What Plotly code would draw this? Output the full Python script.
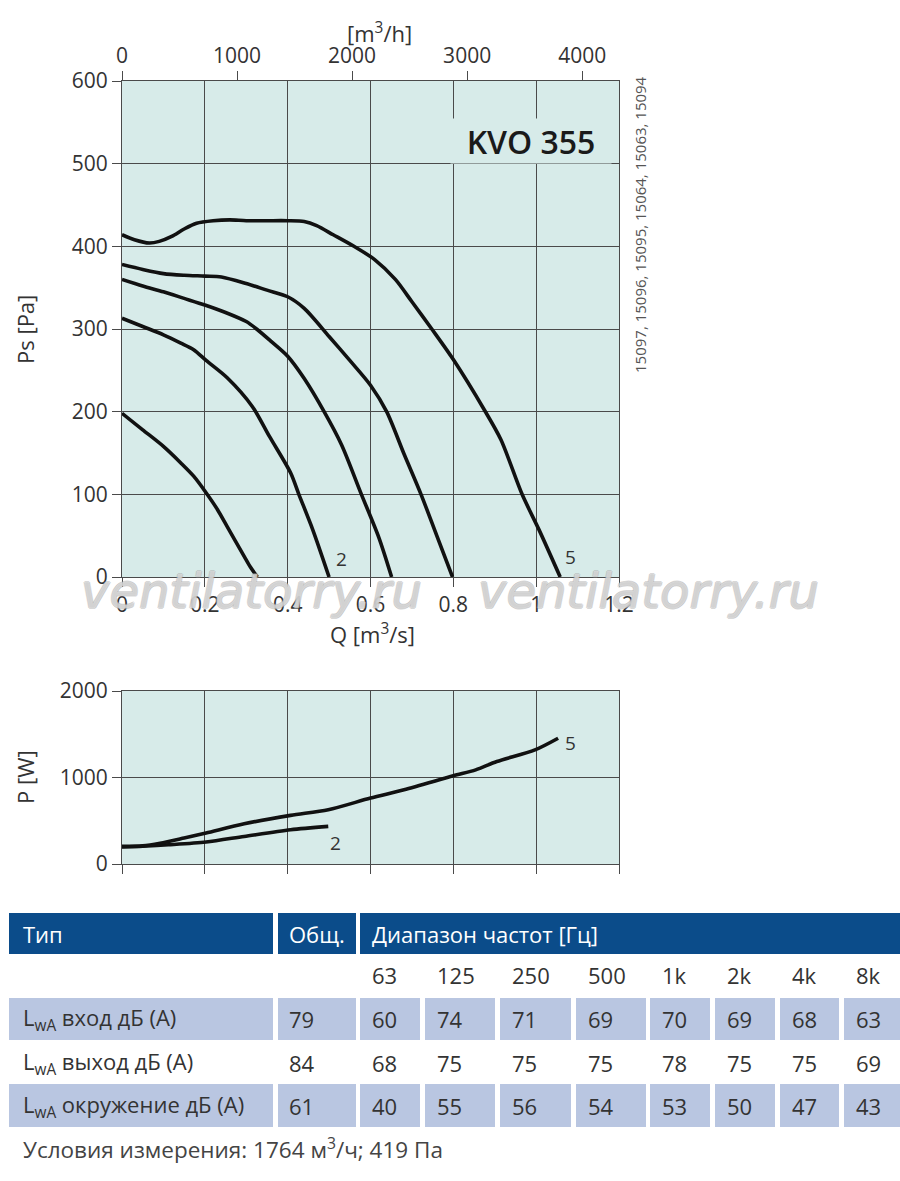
import plotly.graph_objects as go

W, H = 900, 1181

# --- static pressure curves, Q [m3/s] vs Ps [Pa] ---
q1 = [0, 0.05, 0.1, 0.142, 0.173, 0.203, 0.23, 0.254, 0.295, 0.31, 0.327]
ps1 = [198, 178, 158, 138, 122, 102, 82, 61, 25, 12, 0]

q2 = [0, 0.05, 0.1, 0.142, 0.173, 0.203, 0.254, 0.315, 0.356, 0.407, 0.427, 0.46, 0.5]
ps2 = [313, 303, 293, 283, 275, 262, 241, 206, 170, 126, 100, 58, 0]

q3 = [0, 0.05, 0.1, 0.15, 0.2, 0.25, 0.3, 0.325, 0.36, 0.4, 0.44, 0.488, 0.53, 0.578, 0.62, 0.651]
ps3 = [360, 352, 345, 337, 329, 320, 309, 300, 285, 267, 240, 200, 160, 100, 48, 0]

q4 = [0, 0.05, 0.1, 0.15, 0.2, 0.24, 0.3, 0.35, 0.4, 0.44, 0.5, 0.55, 0.6, 0.639, 0.68, 0.722, 0.76, 0.798]
ps4 = [378, 372, 367, 365, 364, 363, 355, 347, 339, 325, 291, 262, 232, 200, 150, 100, 50, 0]

q5 = [0, 0.03, 0.066, 0.09, 0.12, 0.15, 0.18, 0.22, 0.26, 0.3, 0.35, 0.4, 0.44, 0.47, 0.51,
      0.56, 0.61, 0.66, 0.7, 0.748, 0.8, 0.875, 0.915, 0.966, 1.007, 1.058]
ps5 = [414, 408, 404, 406, 412, 421, 428, 431, 432, 431, 431, 431, 430, 425, 414,
       400, 384, 360, 333, 300, 263, 202, 166, 100, 57, 0]

# --- power curves, Q [m3/s] vs P [W] ---
qp2 = [0, 0.05, 0.112, 0.203, 0.295, 0.407, 0.498]
pw2 = [196, 205, 222, 254, 319, 396, 435]

qp5 = [0, 0.05, 0.092, 0.15, 0.203, 0.295, 0.407, 0.498, 0.6, 0.681, 0.8, 0.854, 0.905, 0.997, 1.053]
pw5 = [204, 210, 240, 300, 358, 465, 562, 627, 762, 858, 1019, 1088, 1185, 1319, 1454]

q_ticks = [0, 0.2, 0.4, 0.6, 0.8, 1.0, 1.2]
q_ticktext = ["0", "0.2", "0.4", "0.6", "0.8", "1", "1.2"]
qh_ticks = [0, 1000, 2000, 3000, 4000]

# --- sound table ---
freqs = ["63", "125", "250", "500", "1k", "2k", "4k", "8k"]
row_names = ["L<sub>wA</sub> вход дБ (A)", "L<sub>wA</sub> выход дБ (A)", "L<sub>wA</sub> окружение дБ (A)"]
row_total = [79, 84, 61]
row_values = [
    [60, 74, 71, 69, 70, 69, 68, 63],
    [68, 75, 75, 75, 78, 75, 75, 69],
    [40, 55, 56, 54, 53, 50, 47, 43],
]
footer = "Условия измерения: 1764 м<sup>3</sup>/ч; 419 Па"

BG = "#d7ebe9"
LINE = "#4a4a4a"
TXT = "#333333"
FONT = "Open Sans, sans-serif"
BLUE = "#0b4c8a"
BAND = "#b9c6e1"


def px(x):
    return x / W


def py(y):
    return 1 - y / H


fig = go.Figure()

for q, p in [(q1, ps1), (q2, ps2), (q3, ps3), (q4, ps4), (q5, ps5)]:
    fig.add_trace(go.Scatter(x=q, y=p, mode="lines", xaxis="x", yaxis="y",
                             line=dict(color="#111111", width=3.6, shape="spline", smoothing=0.8),
                             hoverinfo="skip"))
# invisible trace for the m3/h axis
fig.add_trace(go.Scatter(x=[0, 4320], y=[0, 0], mode="lines", xaxis="x3", yaxis="y",
                         line=dict(width=0), hoverinfo="skip"))
for q, p in [(qp2, pw2), (qp5, pw5)]:
    fig.add_trace(go.Scatter(x=q, y=p, mode="lines", xaxis="x2", yaxis="y2",
                             line=dict(color="#111111", width=3.6, shape="spline", smoothing=0.8),
                             hoverinfo="skip"))

xdom = [px(122), px(619)]
axis_common = dict(
    showline=True, linecolor=LINE, linewidth=1.2, mirror=True,
    showgrid=True, gridcolor=LINE, gridwidth=1.1,
    ticks="outside", ticklen=9, tickcolor=LINE, tickwidth=1.2,
    tickfont=dict(family=FONT, size=21, color=TXT),
    zeroline=False, automargin=False,
)

fig.update_layout(
    width=W, height=H,
    margin=dict(l=0, r=0, t=0, b=0),
    paper_bgcolor="white",
    plot_bgcolor=BG,
    showlegend=False,
    xaxis=dict(domain=xdom, range=[0, 1.2], anchor="y", tickvals=q_ticks,
               ticktext=q_ticktext, **axis_common),
    yaxis=dict(domain=[py(577), py(81)], range=[0, 600], anchor="x",
               tickvals=[0, 100, 200, 300, 400, 500, 600], **axis_common),
    xaxis3=dict(overlaying="x", side="top", anchor="y", range=[0, 4320],
                tickvals=qh_ticks, showgrid=False, showline=False, zeroline=False,
                ticks="outside", ticklen=9, tickcolor=LINE, tickwidth=1.2, automargin=False,
                tickfont=dict(family=FONT, size=21, color=TXT)),
    xaxis2=dict(domain=xdom, range=[0, 1.2], anchor="y2", tickvals=q_ticks,
                showticklabels=False, **axis_common),
    yaxis2=dict(domain=[py(864), py(691)], range=[0, 2000], anchor="x2",
                tickvals=[0, 1000, 2000], **axis_common),
)

ann = []


def text(x, y, s, size=21, color=TXT, xanchor="center", **kw):
    ann.append(dict(x=px(x), y=py(y), xref="paper", yref="paper", text=s, showarrow=False,
                    xanchor=xanchor, yanchor="middle",
                    font=dict(family=FONT, size=size, color=color), **kw))


# axis titles
text(379, 33, "[m<sup>3</sup>/h]", size=22)
text(372, 634, "Q [m<sup>3</sup>/s]", size=22)
text(25, 330, "Ps [Pa]", size=22, textangle=-90)
text(25, 777, "P [W]", size=22, textangle=-90)
text(640, 225, "15097, 15096, 15095, 15064, 15063, 15094", size=15, color="#555555", textangle=-90)

# model label, on a box that hides the grid behind it
ann.append(dict(x=px(531), y=py(118), xref="paper", yref="paper", text="KVO 355",
                showarrow=False, bgcolor=BG, width=158, height=42, xanchor="center",
                font=dict(family=FONT, size=32, color="#1a1a1a", weight=600)))

# curve numbers
for xa, ya, q, p, s in [("x", "y", 0.53, 22, "2"), ("x", "y", 1.083, 24, "5"),
                        ("x2", "y2", 0.515, 240, "2"), ("x2", "y2", 1.082, 1400, "5")]:
    ann.append(dict(x=q, y=p, xref=xa, yref=ya, text=s, showarrow=False,
                    font=dict(family=FONT, size=19, color=TXT)))

# watermark: see-through letters with a thin grey outline
for xc in [251, 648]:
    ann.append(dict(x=px(xc), y=py(591), xref="paper", yref="paper", text="ventilatorry.ru",
                    showarrow=False, xanchor="center", yanchor="middle",
                    font=dict(family="DejaVu Sans, sans-serif", size=48, style="italic",
                              color="rgba(255,255,255,0.45)",
                              shadow="1px 0 0 #a8a8a8, -1px 0 0 #a8a8a8, 0 1px 0 #a8a8a8, 0 -1px 0 #a8a8a8")))

# --- table ---
shapes = []


def rect(x0, y0, x1, y1, color):
    shapes.append(dict(type="rect", xref="paper", yref="paper", x0=px(x0), x1=px(x1),
                       y0=py(y1), y1=py(y0), fillcolor=color, line=dict(width=0), layer="below"))


cell_l = [360, 425, 500, 576, 650, 715, 780, 844]
cell_r = [420, 495, 571, 646, 710, 775, 839, 900]

rect(9, 913, 273, 954, BLUE)
rect(278, 913, 356, 954, BLUE)
rect(360, 913, 900, 954, BLUE)
text(21, 934, "Тип", size=22, color="white", xanchor="left")
text(287, 934, "Общ.", size=22, color="white", xanchor="left")
text(370, 934, "Диапазон частот [Гц]", size=22, color="white", xanchor="left")

for i, f in enumerate(freqs):
    text(cell_l[i] + 10, 975, f, size=22, xanchor="left")

row_y = [(998, 1040), (1042, 1084), (1084, 1127)]
for r, name in enumerate(row_names):
    y0, y1 = row_y[r]
    yc = (y0 + y1) / 2
    if r != 1:
        rect(9, y0, 273, y1, BAND)
        rect(278, y0, 356, y1, BAND)
        for i in range(len(freqs)):
            rect(cell_l[i], y0, cell_r[i], y1, BAND)
    text(21, yc, name, size=22, xanchor="left")
    text(287, yc, str(row_total[r]), size=22, xanchor="left")
    for i, v in enumerate(row_values[r]):
        text(cell_l[i] + 10, yc, str(v), size=22, xanchor="left")

text(21, 1148, footer, size=22.5, color="#444444", xanchor="left")

fig.update_layout(annotations=ann, shapes=shapes)

# page body margin off, so the figure sits at the window corner
fig.write_html("out.html", config={"displayModeBar": False},
               post_script="document.body.style.margin='0';")
